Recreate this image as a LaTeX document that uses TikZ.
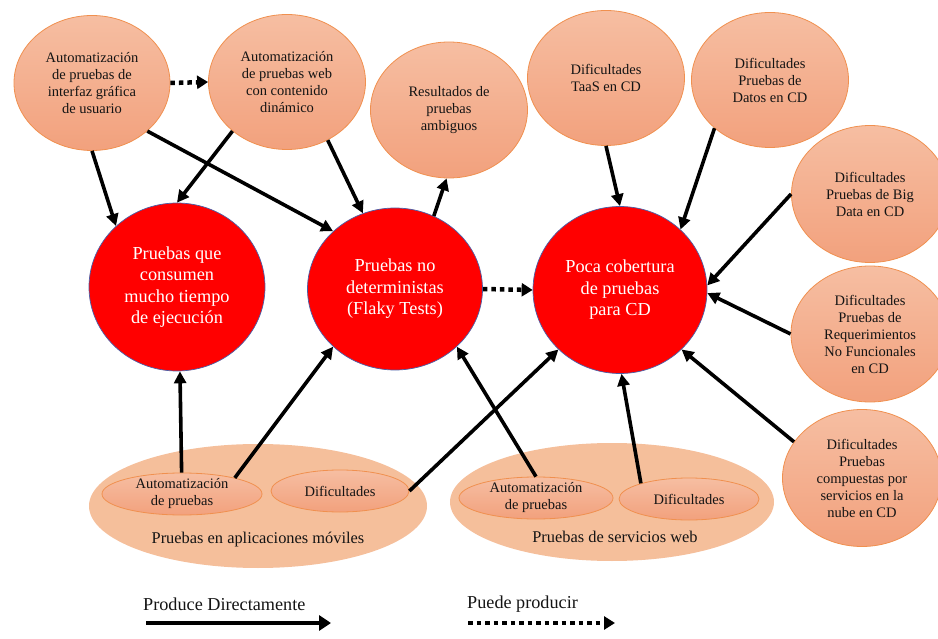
\documentclass[tikz,border=0pt]{standalone}
\usepackage{fontspec}
\setmainfont{Liberation Serif}
\usetikzlibrary{shapes.geometric,arrows.meta}
\definecolor{ltop}{HTML}{F6BEA2}
\definecolor{lbot}{HTML}{F2A17D}
\definecolor{lborder}{HTML}{F0904F}
\definecolor{bgell}{HTML}{F5BF9B}
\definecolor{redfill}{HTML}{FF0000}
\definecolor{redborder}{HTML}{4A5FA8}
\definecolor{txt}{HTML}{141414}
\begin{document}
\begin{tikzpicture}[x=1pt,y=-1pt,
  lite/.style={ellipse, draw=lborder, line width=0.8pt, top color=ltop, bottom color=lbot,
    inner sep=0pt, align=center, text=txt, font=\fontsize{14.5}{17}\selectfont},
  inner/.style={lite, inner ysep=-3pt},
  redc/.style={ellipse, draw=redborder, line width=0.7pt, fill=redfill, inner sep=0pt,
    align=center, text=white, font=\fontsize{18.3}{21.5}\selectfont},
  bigbg/.style={ellipse, fill=bgell, draw=none, inner sep=0pt},
  biglab/.style={text=txt, font=\fontsize{16.4}{19}\selectfont, inner sep=0pt},
  legtxt/.style={text=txt, font=\fontsize{18.2}{21}\selectfont, inner sep=0pt},
  solidarrow/.style={line width=3.6pt, -{Triangle[length=12pt,width=12pt]}},
  dotarrow/.style={line width=4.5pt, dash pattern=on 4.5pt off 4pt, -{Triangle[length=11pt,width=13pt]}},
  legsolid/.style={line width=4.5pt, -{Triangle[length=12pt,width=15pt]}},
]
\useasboundingbox (0,0) rectangle (938,639);

% bottom group ellipses
\node[bigbg, minimum width=338pt, minimum height=124pt] (M) at (258,506) {};
\node[bigbg, minimum width=324pt, minimum height=118pt] (W) at (612,502) {};
\node[inner, minimum width=160pt, minimum height=42pt] (MA) at (182,494) {Automatización\\de pruebas};
\node[inner, minimum width=138pt, minimum height=42pt] (MD) at (340,491) {Dificultades};
\node[inner, minimum width=154pt, minimum height=42pt] (WA) at (536,498) {Automatización\\de pruebas};
\node[inner, minimum width=140pt, minimum height=42pt] (WD) at (689,499) {Dificultades};
\node[biglab] (Mlab) at (258,540) {Pruebas en aplicaciones móviles};
\node[biglab] (Wlab) at (615,537) {Pruebas de servicios web};

% top ellipses
\node[lite, minimum width=156pt, minimum height=135pt] (A1) at (92,83) {Automatización\\de pruebas de\\interfaz gráfica\\de usuario};
\node[lite, minimum width=157pt, minimum height=135pt] (A2) at (287,82) {Automatización\\de pruebas web\\con contenido\\dinámico};
\node[lite, minimum width=157pt, minimum height=136pt] (R) at (449,110) {Resultados de\\pruebas\\ambiguos};
\node[lite, minimum width=157pt, minimum height=135pt] (T) at (606,78) {Dificultades\\TaaS en CD};
\node[lite, minimum width=157pt, minimum height=135pt] (D) at (770,80) {Dificultades\\Pruebas de\\Datos en CD};
\node[lite, minimum width=157pt, minimum height=137pt] (BD) at (870,194) {Dificultades\\Pruebas de Big\\Data en CD};
\node[lite, minimum width=158pt, minimum height=136pt] (NF) at (870,334) {Dificultades\\Pruebas de\\Requerimientos\\No Funcionales\\en CD};
\node[lite, minimum width=159pt, minimum height=137pt] (NU) at (862,478) {Dificultades\\Pruebas\\compuestas por\\servicios en la\\nube en CD};

% red circles
\node[redc, minimum width=176pt, minimum height=168pt] (P1) at (177,287) {Pruebas que\\consumen\\mucho tiempo\\de ejecución};
\node[redc, minimum width=175pt, minimum height=162pt] (P2) at (395,289) {Pruebas no\\deterministas\\(Flaky Tests)};
\node[redc, minimum width=174pt, minimum height=167pt] (P3) at (620,290) {Poca cobertura\\de pruebas\\para CD};

% solid arrows
\draw[solidarrow] (A1.-90) -- (P1.135);
\draw[solidarrow] (A1.-41) -- (P2.137);
\draw[solidarrow] (A2.-138) -- (P1.90);
\draw[solidarrow] (A2.-55) -- (P2.113);
\draw[solidarrow] (P2.62) -- (R.-92);
\draw[solidarrow] (T.-90) -- (P3.90);
\draw[solidarrow] (D.-139) -- (P3.45);
\draw[solidarrow] (BD.180) -- (P3.3);
\draw[solidarrow] (NF.180) -- (P3.-2);
\draw[solidarrow] (NU.152) -- (P3.-44);
\draw[solidarrow] (MA.91) -- (P1.-88);
\draw[solidarrow] (MA.17) -- (P2.-137);
\draw[solidarrow] (MD.0) -- (P3.-136);
\draw[solidarrow] (WA.90) -- (P2.-43);
\draw[solidarrow] (WD.162) -- (P3.-89);

% dotted arrows
\draw[dotarrow] (A1.0) -- (A2.180);
\draw[dotarrow] (P2.0) -- (P3.180);

% legend
\node[legtxt, anchor=west] (L1) at (143,604) {Produce Directamente};
\node[legtxt, anchor=west] (L2) at (467,604) {Puede producir};
\coordinate (L1s) at (146,623);
\coordinate (L1e) at (331,623);
\coordinate (L2s) at (468,623);
\coordinate (L2e) at (615,623);
\draw[legsolid] (L1s) -- (L1e);
\draw[dotarrow] (L2s) -- (L2e);
\end{tikzpicture}
\end{document}
